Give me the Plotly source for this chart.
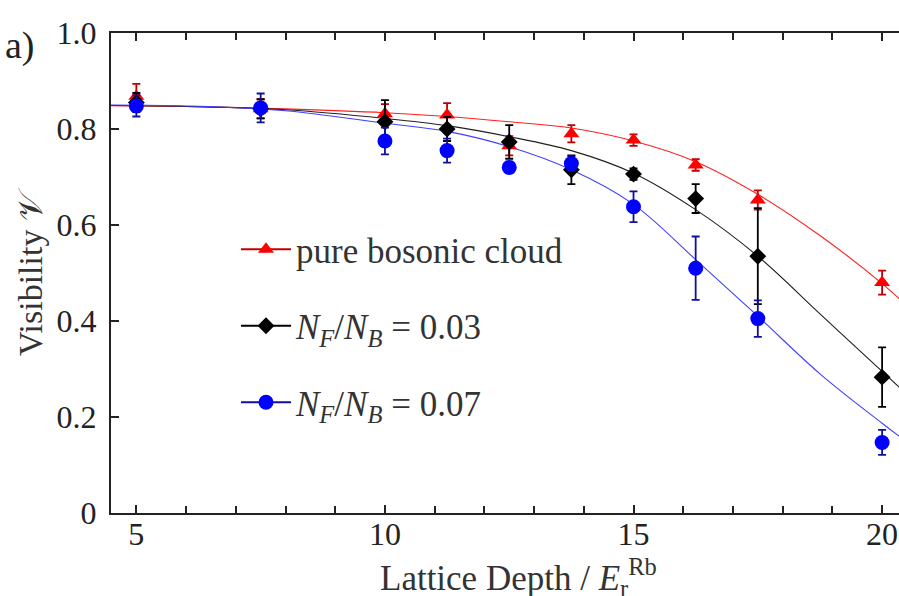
import plotly.graph_objects as go

# ---------------- data ----------------
depth_red = [5, 7.5, 10, 11.25, 12.5, 13.75, 15, 16.25, 17.5, 20]
vis_red = [0.868, 0.842, 0.832, 0.829, 0.765, 0.790, 0.777, 0.725, 0.652, 0.480]
err_red = [0.026, 0.02, 0.02, 0.025, 0.02, 0.018, 0.012, 0.012, 0.02, 0.025]

depth_black = [5, 7.5, 10, 11.25, 12.5, 13.75, 15, 16.25, 17.5, 20]
vis_black = [0.855, 0.842, 0.815, 0.800, 0.773, 0.715, 0.706, 0.655, 0.535, 0.283]
err_black = [0.02, 0.02, 0.045, 0.025, 0.035, 0.03, 0.012, 0.03, 0.10, 0.062]

depth_blue = [5, 7.5, 10, 11.25, 12.5, 13.75, 15, 16.25, 17.5, 20]
vis_blue = [0.848, 0.844, 0.775, 0.755, 0.720, 0.728, 0.638, 0.510, 0.405, 0.147]
err_blue = [0.022, 0.03, 0.028, 0.025, 0.012, 0.015, 0.032, 0.066, 0.038, 0.026]

# fit curves
fit_depth = [4.3, 6, 8, 10, 11.25, 12.5, 13.75, 15, 16.25, 17.5, 18.75, 20, 20.6]
fit_red = [0.849, 0.847, 0.842, 0.834, 0.826, 0.815, 0.802, 0.775, 0.732, 0.664, 0.578, 0.478, 0.422]
fit_black = [0.849, 0.847, 0.840, 0.822, 0.807, 0.784, 0.755, 0.708, 0.632, 0.535, 0.415, 0.295, 0.238]
fit_blue = [0.850, 0.848, 0.838, 0.812, 0.795, 0.763, 0.715, 0.643, 0.528, 0.410, 0.290, 0.187, 0.140]

x_ticks = [5, 10, 15, 20]
y_ticks = [0, 0.2, 0.4, 0.6, 0.8, 1.0]
y_ticktext = ["0", "0.2", "0.4", "0.6", "0.8", "1.0"]

labels = ["pure bosonic cloud",
          "<i>N<sub>F</sub></i>/<i>N<sub>B</sub></i> = 0.03",
          "<i>N<sub>F</sub></i>/<i>N<sub>B</sub></i> = 0.07"]

FONT = "Liberation Serif"
W, H = 899, 596
L, R, T, B = 111, 0, 33, 83


def px(xpix):
    return (xpix - L) / (W - L - R)


def py(ypix):
    return (H - B - ypix) / (H - T - B)


fig = go.Figure()

# fit lines
for yv, col in [(fit_red, "#ff2020"), (fit_black, "#202020"), (fit_blue, "#4040ff")]:
    fig.add_trace(go.Scatter(x=fit_depth, y=yv, mode="lines", line=dict(color=col, width=1.1, shape="spline"),
                             showlegend=False, hoverinfo="skip"))

series = [
    (depth_red, vis_red, err_red, "#ff0000", "#c00000", "triangle-up", 14, labels[0]),
    (depth_black, vis_black, err_black, "#000000", "#000000", "diamond", 13, labels[1]),
    (depth_blue, vis_blue, err_blue, "#0000ff", "#1010a0", "circle", 15, labels[2]),
]

for i, (xs, ys, es, col, ecol, sym, sz, name) in enumerate(series):
    fig.add_trace(go.Scatter(x=xs, y=ys, mode="markers",
                             marker=dict(color=col, symbol=sym, size=sz, line=dict(width=0)),
                             error_y=dict(type="data", array=es, visible=True, color=ecol, thickness=1.8, width=4),
                             showlegend=False))
    # legend entry
    fig.add_trace(go.Scatter(x=[None], y=[None], mode="lines+markers", name=name,
                             marker=dict(color=col, symbol=sym, size=sz),
                             line=dict(color=ecol, width=1.8), legendgroup=str(i)))

fig.update_layout(
    width=W, height=H,
    margin=dict(l=L, r=R, t=T, b=B),
    paper_bgcolor="white", plot_bgcolor="white",
    font=dict(family=FONT, size=32, color="#222222"),
    showlegend=True,
    legend=dict(x=px(236), y=py(220), xanchor="left", yanchor="top",
                font=dict(family=FONT, size=35, color="#333333"),
                itemwidth=50,
                bgcolor="rgba(0,0,0,0)", tracegroupgap=28, traceorder="grouped"),
    xaxis=dict(range=[4.49, 20.34], showline=True, linecolor="#222222", linewidth=2, mirror="ticks",
               ticks="inside", ticklen=8, tickwidth=1.5, tickcolor="#222222",
               tickvals=x_ticks, showgrid=False, zeroline=False,
               ticklabelstandoff=-8,
               tickfont=dict(family=FONT, size=32, color="#222222"),
               minor=dict(dtick=1, tick0=0, ticks="inside", ticklen=7, tickwidth=1.5, tickcolor="#222222",
                          showgrid=False)),
    yaxis=dict(range=[0, 1.0], showline=True, linecolor="#222222", linewidth=2, mirror=False,
               ticks="inside", ticklen=8, tickwidth=1.5, tickcolor="#222222",
               tickvals=y_ticks, ticktext=y_ticktext, showgrid=False, zeroline=False,
               ticklabelstandoff=6,
               tickfont=dict(family=FONT, size=32, color="#222222")),
)

fig.add_annotation(text="a)", xref="paper", yref="paper", x=px(3), y=py(45), xanchor="left", yanchor="middle",
                   showarrow=False, font=dict(family=FONT, size=38, color="#222222"))
fig.add_annotation(text="Lattice Depth / <i>E</i><sub>r</sub><sup>Rb</sup>", xref="paper", yref="paper",
                   x=px(518), y=py(577), xanchor="center", yanchor="middle",
                   showarrow=False, font=dict(family=FONT, size=35, color="#333333"))
fig.add_annotation(text="Visibility 𝒱", xref="paper", yref="paper",
                   x=px(30), y=py(272), xanchor="center", yanchor="middle", textangle=-90,
                   showarrow=False, font=dict(family=FONT, size=34, color="#333333"))

fig.write_html("out.html", config={"displayModeBar": False},
               post_script="document.body.style.margin='0px';")
